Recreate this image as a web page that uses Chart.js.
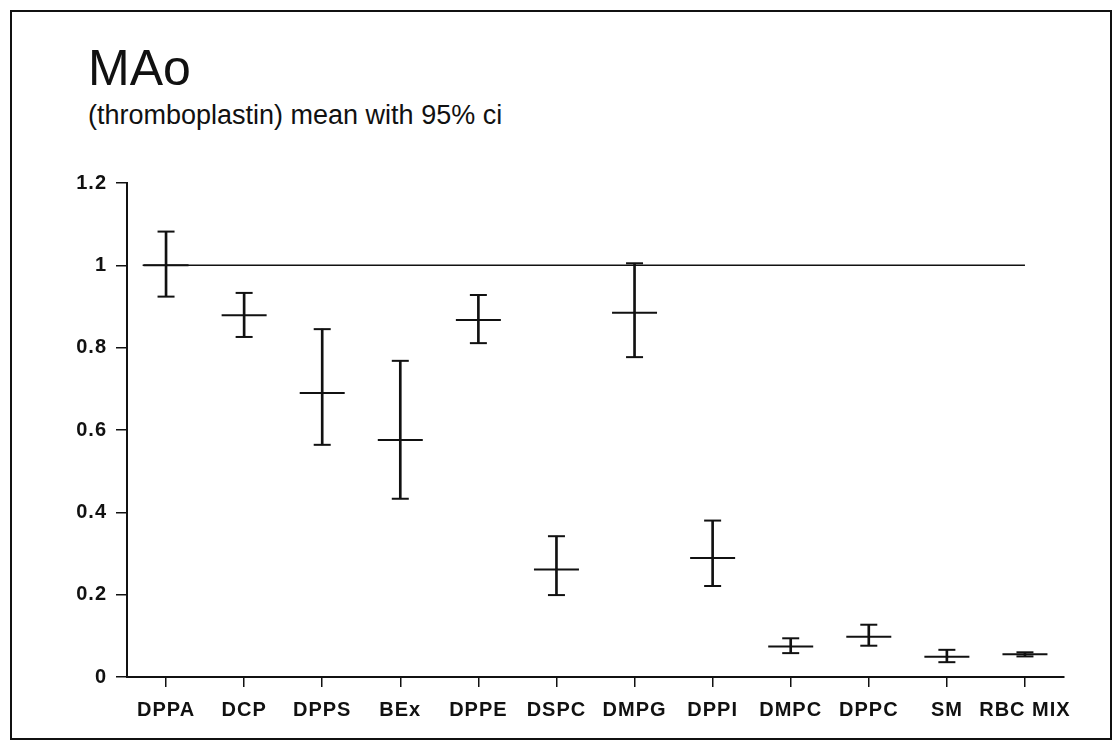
<!DOCTYPE html>
<html>
<head>
<meta charset="utf-8">
<script src="https://cdn.jsdelivr.net/npm/chart.js@4/dist/chart.umd.min.js"></script>
<style>
  html, body { margin: 0; padding: 0; background: #fff; }
  #wrap { position: relative; width: 1120px; height: 748px; }
  #frame { position: absolute; left: 10px; top: 10px; width: 1098px; height: 726px; border: 2px solid #111; }
  .title { position: absolute; left: 88px; line-height: 1; font-family: "Liberation Sans", Arial, sans-serif; color: #111; white-space: nowrap; }
  #main-title { top: 43px; font-size: 50px; }
  #sub-title { top: 102px; font-size: 27px; }
  canvas { position: absolute; left: 0; top: 0; }
</style>
</head>
<body>
<div id="wrap">
  <div id="frame"></div>
  <div class="title" id="main-title">MAo</div>
  <div class="title" id="sub-title">(thromboplastin) mean with 95% ci</div>
  <canvas id="chart" width="1120" height="748"></canvas>
</div>
<script>
const categories = ['DPPA', 'DCP', 'DPPS', 'BEx', 'DPPE', 'DSPC', 'DMPG', 'DPPI', 'DMPC', 'DPPC', 'SM', 'RBC MIX'];
const means = [1.0, 0.879, 0.690, 0.576, 0.867, 0.261, 0.885, 0.289, 0.074, 0.098, 0.049, 0.055];
const lower = [0.924, 0.826, 0.564, 0.433, 0.811, 0.199, 0.777, 0.221, 0.058, 0.076, 0.036, 0.050];
const upper = [1.082, 0.933, 0.845, 0.768, 0.928, 0.342, 1.005, 0.380, 0.094, 0.127, 0.066, 0.060];
const yTicks = [0, 0.2, 0.4, 0.6, 0.8, 1, 1.2];
const refValue = 1;
const refFrom = -0.3;
const refTo = 11;

const ink = '#111';
const font = { family: '"Liberation Sans", Arial, sans-serif', size: 20, weight: 'bold' };

// old plotter labels are spaced out a little
const letterSpacing = {
  id: 'letterSpacing',
  beforeDraw: (chart) => { chart.ctx.letterSpacing = '1px'; }
};

const ctx = document.getElementById('chart').getContext('2d');

new Chart(ctx, {
  type: 'bar',
  data: {
    datasets: [
      {
        // reference line at 1
        type: 'line',
        data: [{ x: refFrom, y: refValue }, { x: refTo, y: refValue }],
        borderColor: ink,
        borderWidth: 1.5,
        pointRadius: 0,
        order: 4
      },
      {
        // ci whiskers
        type: 'bar',
        data: categories.map((c, i) => ({ x: i, y: [lower[i], upper[i]] })),
        backgroundColor: ink,
        barThickness: 2,
        order: 3
      },
      {
        // caps
        type: 'scatter',
        data: categories.flatMap((c, i) => [{ x: i, y: lower[i] }, { x: i, y: upper[i] }]),
        pointStyle: 'line',
        pointRadius: 8.5,
        borderColor: ink,
        borderWidth: 2,
        order: 2
      },
      {
        // means
        type: 'scatter',
        data: categories.map((c, i) => ({ x: i, y: means[i] })),
        pointStyle: 'line',
        pointRadius: 22.5,
        borderColor: ink,
        borderWidth: 2,
        order: 1
      }
    ]
  },
  options: {
    responsive: false,
    animation: false,
    layout: { padding: { left: 0, top: 183, right: 56, bottom: 0 } },
    plugins: {
      legend: { display: false },
      tooltip: { enabled: false }
    },
    scales: {
      x: {
        type: 'linear',
        min: -0.5,
        max: 11.5,
        offset: false,
        afterBuildTicks: (scale) => {
          scale.ticks = categories.map((c, i) => ({ value: i }));
        },
        afterFit: (scale) => { scale.height = 71; },
        grid: {
          offset: false,
          drawOnChartArea: false,
          drawTicks: true,
          tickLength: 10,
          color: ink,
          lineWidth: 1.5
        },
        border: { display: true, color: ink, width: 2 },
        ticks: {
          autoSkip: false,
          maxRotation: 0,
          padding: 11,
          color: ink,
          font: font,
          callback: (v) => categories[v]
        }
      },
      y: {
        type: 'linear',
        min: 0,
        max: 1.2,
        afterBuildTicks: (scale) => {
          scale.ticks = yTicks.map(v => ({ value: v }));
        },
        afterFit: (scale) => { scale.width = 127; },
        grid: {
          drawOnChartArea: false,
          drawTicks: true,
          tickLength: 11,
          color: ink,
          lineWidth: 1.5
        },
        border: { display: true, color: ink, width: 2 },
        ticks: {
          padding: 9,
          color: ink,
          font: font,
          callback: (v) => String(v)
        }
      }
    }
  },
  plugins: [letterSpacing]
});
</script>
</body>
</html>
